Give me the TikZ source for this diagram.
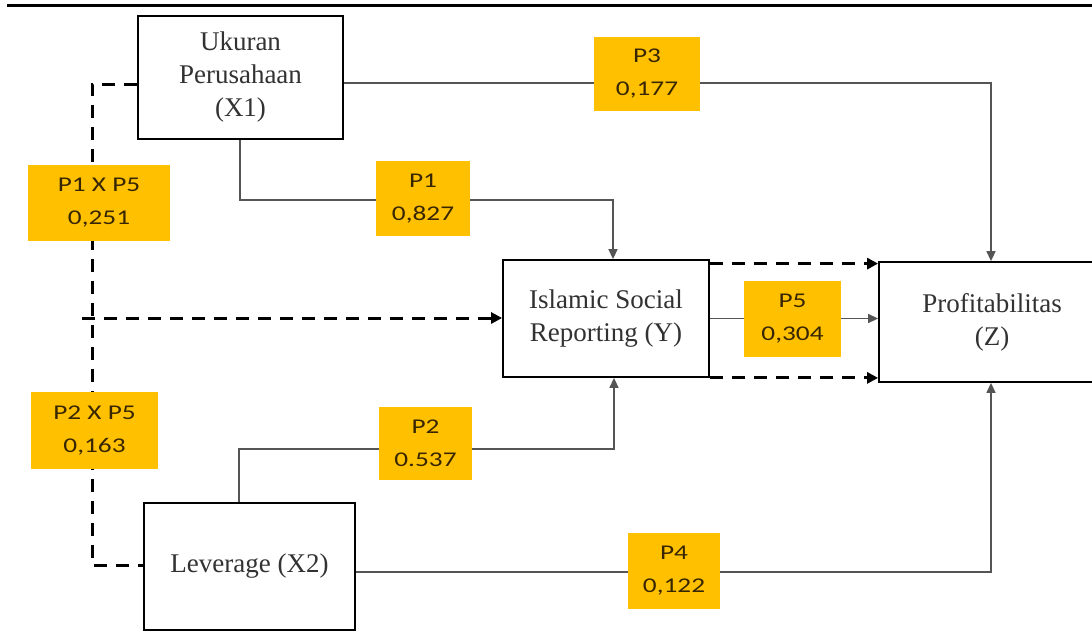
\documentclass[tikz,border=0pt]{standalone}
\usepackage{fontspec}
\setmainfont{Liberation Serif}
\newfontfamily\labfont{Carlito}[FakeStretch=1.3]
\usetikzlibrary{arrows.meta}
\definecolor{labfill}{RGB}{255,192,0}
\definecolor{labtext}{RGB}{55,38,0}
\definecolor{boxtext}{RGB}{50,50,50}
\definecolor{linegray}{RGB}{85,85,85}
\begin{document}
\begin{tikzpicture}[x=1pt,y=-1pt,
  box/.style={draw=black,line width=1.8pt,fill=white,align=center,inner sep=0pt,text=boxtext,font=\fontsize{27}{33}\selectfont},
  lbl/.style={fill=labfill,align=center,inner sep=0pt,text=labtext,font=\labfont\fontsize{21}{33}\selectfont},
  ln/.style={draw=linegray,line width=1.4pt},
  arr/.style={-{Triangle[length=10pt,width=9pt]}},
  dsh/.style={draw=black,line width=3pt,dash pattern=on 13pt off 9pt},
  darr/.style={-{Triangle[length=11pt,width=11pt]}}]
\useasboundingbox[fill=white] (0,0) rectangle (1092,633);
% top rule
\draw[line width=3pt] (7,5.5) -- (1092,5.5);
% boxes
\node[box,minimum width=205pt,minimum height=123pt] (X1) at (240.5,77.5) {Ukuran\\Perusahaan\\(X1)};
\node[box,minimum width=206pt,minimum height=117pt] (ISR) at (606,318.5) {Islamic Social\\Reporting (Y)};
\node[box,minimum width=226pt,minimum height=120pt] (Z) at (992,322) {Profitabilitas\\(Z)};
\node[box,minimum width=211pt,minimum height=127pt] (X2) at (249.5,566.5) {Leverage (X2)};
% bend points
\coordinate (a1) at (991,83);
\coordinate (b1) at (240,200);
\coordinate (b2) at (613,200);
\coordinate (c1) at (239,449);
\coordinate (c2) at (614,449);
\coordinate (d1) at (991,572);
\coordinate (v1) at (92,84);
\coordinate (v2) at (92,565);
\coordinate (t1) at (82,318);
% solid connectors
\draw[ln,arr] (X1.east |- a1) -- (a1) -- (Z.north -| a1);
\draw[ln,arr] (X1.south -| b1) -- (b1) -- (b2) -- (ISR.north -| b2);
\draw[ln,arr] (X2.north -| c1) -- (c1) -- (c2) -- (ISR.south -| c2);
\draw[ln,arr] (X2.east |- d1) -- (d1) -- (Z.south -| d1);
\draw[ln,arr] (ISR.east) -- (ISR.east -| Z.west);
% dashed connectors
\draw[dsh] (X1.west |- v1) -- (v1) -- (v2) -- (X2.west |- v2);
\draw[dsh,darr] (t1) -- (ISR.west |- t1);
\draw[dsh,darr] ([yshift=-4.5pt]ISR.north east) -- ([yshift=-4.5pt]ISR.north east -| Z.west);
\draw[dsh,darr] (ISR.south east) -- (ISR.south east -| Z.west);
% labels
\node[lbl,minimum width=142pt,minimum height=76pt] (L15) at (99,203) {P1 X P5\\0,251};
\node[lbl,minimum width=127pt,minimum height=77pt] (L25) at (94.5,430.5) {P2 X P5\\0,163};
\node[lbl,minimum width=94pt,minimum height=75pt] (LP1) at (423,198.5) {P1\\0,827};
\node[lbl,minimum width=93pt,minimum height=73pt] (LP2) at (425.5,443.5) {P2\\0.537};
\node[lbl,minimum width=106pt,minimum height=74pt] (LP3) at (647,74) {P3\\0,177};
\node[lbl,minimum width=92pt,minimum height=76pt] (LP4) at (674,571) {P4\\0,122};
\node[lbl,minimum width=97pt,minimum height=76pt] (LP5) at (792.5,319) {P5\\0,304};
\end{tikzpicture}
\end{document}
